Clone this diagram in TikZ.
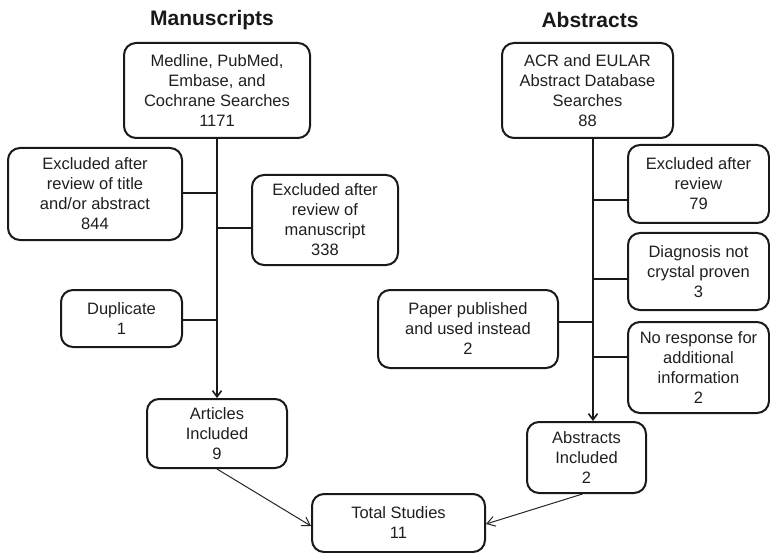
\documentclass[tikz,border=0pt]{standalone}
\usepackage{fontspec}
\setmainfont{Liberation Sans}
\usetikzlibrary{arrows.meta}
\begin{document}
\begin{tikzpicture}[x=1pt,y=-1pt,
  box/.style={draw=black!90, line width=2pt, rounded corners=12pt, align=center,
    inner sep=0pt, font=\fontsize{16.5}{20}\selectfont, text=black!88},
  ttl/.style={font=\bfseries\fontsize{21}{24}\selectfont, text=black!90},
  conn/.style={draw=black!90, line width=2pt},
  trunkarrow/.style={conn, -{Straight Barb[length=6pt,width=9pt,line width=1.6pt]}},
  thinarrow/.style={draw=black!85, line width=1pt, -{Straight Barb[length=8pt,width=10pt]}}]
\useasboundingbox (0,0) rectangle (770,553);
% titles
\node[ttl] (t1) at (212,20) {Manuscripts};
\node[ttl] (t2) at (590,20) {Abstracts};
% manuscripts column
\node[box, minimum width=186pt, minimum height=95pt] (src1) at (217,90.5)
  {Medline, PubMed,\\Embase, and\\Cochrane Searches\\1171};
\node[box, minimum width=174pt, minimum height=92pt] (ex1) at (95,194)
  {Excluded after\\review of title\\and/or abstract\\844};
\node[box, minimum width=146pt, minimum height=90pt] (ex2) at (325,220)
  {Excluded after\\review of\\manuscript\\338};
\node[box, minimum width=121pt, minimum height=57pt] (dup) at (121.5,318.5)
  {Duplicate\\1};
\node[box, minimum width=140pt, minimum height=69pt] (art) at (217,433.5)
  {Articles\\Included\\9};
% abstracts column
\node[box, minimum width=171pt, minimum height=95pt] (src2) at (587.5,90.5)
  {ACR and EULAR\\Abstract Database\\Searches\\88};
\node[box, minimum width=141pt, minimum height=78pt] (ab1) at (698.5,184)
  {Excluded after\\review\\79};
\node[box, minimum width=141pt, minimum height=77pt] (ab2) at (698.5,271.5)
  {Diagnosis not\\crystal proven\\3};
\node[box, minimum width=180pt, minimum height=78pt] (ab3) at (468,329)
  {Paper published\\and used instead\\2};
\node[box, minimum width=141pt, minimum height=91pt] (ab4) at (698.5,367.5)
  {No response for\\additional\\information\\2};
\node[box, minimum width=119pt, minimum height=71pt] (absinc) at (586.5,457.5)
  {Abstracts\\Included\\2};
% total
\node[box, minimum width=173pt, minimum height=58pt] (total) at (398.5,523)
  {Total Studies\\11};
% left trunk
\coordinate (m1) at (217,193);
\coordinate (m2) at (217,228);
\coordinate (m3) at (217,320);
\draw[trunkarrow] (src1.south) -- (art.north);
\draw[conn] (m1) -- (m1 -| ex1.east);
\draw[conn] (m2) -- (m2 -| ex2.west);
\draw[conn] (m3) -- (m3 -| dup.east);
% right trunk
\coordinate (a0) at (593,138);
\coordinate (a1) at (593,200);
\coordinate (a2) at (593,279);
\coordinate (a3) at (593,322);
\coordinate (a4) at (593,357);
\draw[trunkarrow] (a0) -- (a0 |- absinc.north);
\draw[conn] (a1) -- (a1 -| ab1.west);
\draw[conn] (a2) -- (a2 -| ab2.west);
\draw[conn] (a3) -- (a3 -| ab3.east);
\draw[conn] (a4) -- (a4 -| ab4.west);
% to total
\draw[thinarrow] (art.south) -- ([yshift=-3pt]total.west);
\draw[thinarrow] ([xshift=-4pt]absinc.south) -- ([yshift=-1pt]total.east);
\end{tikzpicture}
\end{document}
